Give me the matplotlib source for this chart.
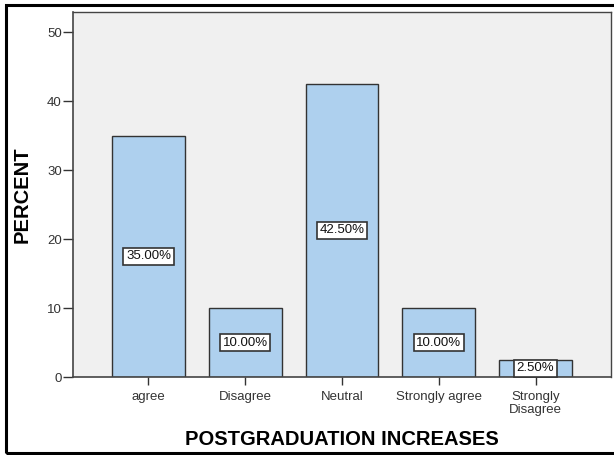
import matplotlib
matplotlib.use("Agg")
import matplotlib.pyplot as plt
from matplotlib.patches import Rectangle

categories = ["agree", "Disagree", "Neutral", "Strongly agree", "Strongly\nDisagree"]
percents = [35.0, 10.0, 42.5, 10.0, 2.5]
y_ticks = [0, 10, 20, 30, 40, 50]

plt.rcParams["font.family"] = ["Liberation Sans", "DejaVu Sans"]

W, H = 614, 455
fig = plt.figure(figsize=(W / 100, H / 100), dpi=100)

# plot area in pixel coordinates
left, right, top, bottom = 73, 611, 12, 377
ax = fig.add_axes([left / W, 1 - bottom / H, (right - left) / W, (bottom - top) / H])
ax.set_facecolor("#f0f0f0")

x = list(range(len(categories)))
bars = ax.bar(x, percents, width=0.75, color="#aed0ee", edgecolor="#333333", linewidth=1.0, zorder=2)

for xi, v in zip(x, percents):
    ax.text(xi, v / 2, f"{v:.2f}%", ha="center", va="center", fontsize=9.5, color="#111111", zorder=3,
            bbox=dict(boxstyle="square,pad=0.2", facecolor="white", edgecolor="#333333", linewidth=1.2))

ax.set_xlim(-0.78, 4.78)
ax.set_ylim(0, 52.9)
ax.set_yticks(y_ticks)
ax.set_xticks(x)
ax.set_xticklabels(categories, fontsize=9.5, linespacing=1.15)
ax.tick_params(axis="y", labelsize=9.5, length=7, width=1, color="#333333", pad=1, labelcolor="#333333")
ax.tick_params(axis="x", length=6, width=1, color="#333333", pad=4, labelcolor="#333333")

for s in ax.spines.values():
    s.set_color("#444444")
    s.set_linewidth(1.0)
ax.spines["left"].set_linewidth(1.2)
ax.spines["bottom"].set_linewidth(1.2)

ax.set_ylabel("PERCENT", fontsize=14.5, fontweight="bold", labelpad=11)
ax.set_xlabel("POSTGRADUATION INCREASES", fontsize=14.5, fontweight="bold", labelpad=10)

# outer frame around the figure
fig.patches.append(Rectangle((6 / W, 1 - 453 / H), 1.0, (453 - 5) / H, transform=fig.transFigure,
                             fill=False, edgecolor="black", linewidth=2.2))

fig.savefig("out.png", dpi=100)
